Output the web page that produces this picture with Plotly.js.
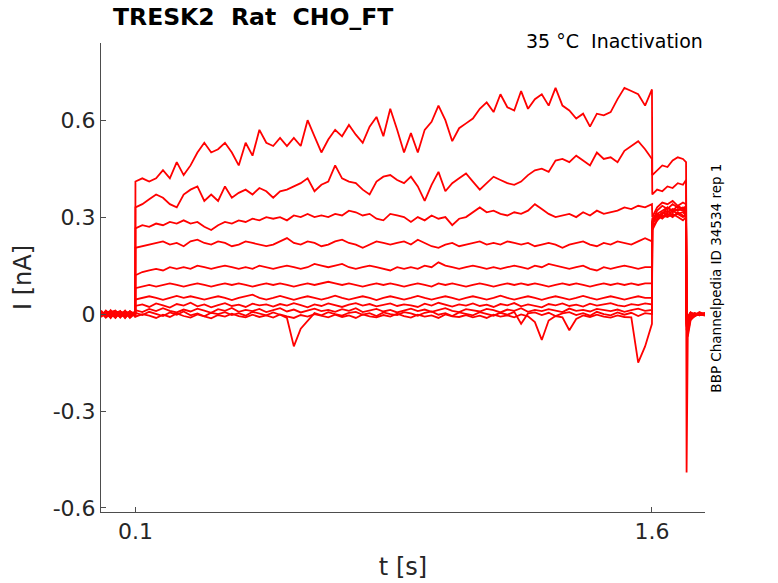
<!DOCTYPE html>
<html>
<head>
<meta charset="utf-8">
<script src="https://cdn.plot.ly/plotly-3.0.1.min.js"></script>
<style>
  html, body { margin: 0; padding: 0; background: #fff; }
  #chart { width: 778px; height: 583px; }
</style>
</head>
<body>
<div id="chart"></div>
<script>
// time bases [s]: holding, conditioning step, test step, return
var tPre = [0, 0.014, 0.028, 0.042, 0.056, 0.07, 0.084, 0.0995];
var tPulse = [
  0.10, 0.12, 0.14, 0.16, 0.18, 0.20, 0.22, 0.24, 0.26, 0.28,
  0.30, 0.32, 0.34, 0.36, 0.38, 0.40, 0.42, 0.44, 0.46, 0.48,
  0.50, 0.52, 0.54, 0.56, 0.58, 0.60, 0.62, 0.64, 0.66, 0.68,
  0.70, 0.72, 0.74, 0.76, 0.78, 0.80, 0.82, 0.84, 0.86, 0.88,
  0.90, 0.92, 0.94, 0.96, 0.98, 1.00, 1.02, 1.04, 1.06, 1.08,
  1.10, 1.12, 1.14, 1.16, 1.18, 1.20, 1.22, 1.24, 1.26, 1.28,
  1.30, 1.32, 1.34, 1.36, 1.38, 1.40, 1.42, 1.44, 1.46, 1.48,
  1.50, 1.52, 1.54, 1.56, 1.58, 1.60];
var tTest = [1.601, 1.615, 1.63, 1.645, 1.66, 1.675, 1.69, 1.699];
var tPost = [1.7005, 1.704, 1.712, 1.724, 1.738, 1.754];

// currents [nA]: pre (8) | pulse (76) | test (8) | post (6)
var i1 = [0.006, -0.01, 0.012, -0.005, 0.009, -0.012, 0.005, 0.003,
  0.41, 0.42, 0.41, 0.42, 0.445, 0.42, 0.47, 0.43, 0.46, 0.50,
  0.53, 0.50, 0.51, 0.53, 0.50, 0.46, 0.53, 0.49, 0.57, 0.53,
  0.52, 0.545, 0.52, 0.545, 0.52, 0.60, 0.55, 0.50, 0.54, 0.57,
  0.55, 0.585, 0.555, 0.53, 0.58, 0.61, 0.55, 0.635, 0.57, 0.50,
  0.56, 0.50, 0.57, 0.595, 0.645, 0.60, 0.535, 0.575, 0.59, 0.605,
  0.635, 0.655, 0.625, 0.68, 0.64, 0.63, 0.69, 0.635, 0.665, 0.68,
  0.645, 0.70, 0.645, 0.63, 0.605, 0.62, 0.58, 0.62, 0.615, 0.625,
  0.665, 0.70, 0.69, 0.68, 0.645, 0.695,
  0.43, 0.445, 0.46, 0.455, 0.475, 0.485, 0.48, 0.47,
  -0.02, -0.01, 0.005, -0.004, 0.006, -0.002];
var i2 = [-0.008, 0.011, -0.003, 0.008, -0.011, 0.006, -0.005, 0.009,
  0.33, 0.34, 0.355, 0.37, 0.36, 0.34, 0.33, 0.37, 0.385, 0.395,
  0.35, 0.37, 0.35, 0.395, 0.36, 0.375, 0.385, 0.37, 0.39, 0.38,
  0.36, 0.38, 0.385, 0.395, 0.405, 0.42, 0.38, 0.40, 0.41, 0.46,
  0.42, 0.41, 0.405, 0.385, 0.37, 0.41, 0.425, 0.43, 0.415, 0.405,
  0.425, 0.395, 0.35, 0.40, 0.44, 0.38, 0.405, 0.42, 0.435, 0.41,
  0.385, 0.405, 0.425, 0.415, 0.405, 0.40, 0.41, 0.43, 0.445, 0.45,
  0.44, 0.475, 0.48, 0.47, 0.49, 0.475, 0.46, 0.50, 0.48, 0.485,
  0.47, 0.505, 0.52, 0.535, 0.51, 0.48,
  0.37, 0.385, 0.38, 0.395, 0.39, 0.405, 0.40, 0.415,
  -0.03, -0.012, 0.004, -0.006, 0.003, 0.001];
var i3 = [0.009, -0.006, 0.003, -0.012, 0.008, 0.002, -0.009, 0.006,
  0.265, 0.275, 0.27, 0.28, 0.275, 0.285, 0.28, 0.29, 0.28, 0.285,
  0.27, 0.26, 0.275, 0.285, 0.28, 0.29, 0.285, 0.295, 0.29, 0.30,
  0.295, 0.30, 0.29, 0.305, 0.30, 0.31, 0.30, 0.305, 0.30, 0.31,
  0.305, 0.32, 0.315, 0.305, 0.31, 0.295, 0.29, 0.31, 0.305, 0.30,
  0.285, 0.30, 0.29, 0.305, 0.295, 0.30, 0.275, 0.295, 0.30, 0.315,
  0.33, 0.315, 0.32, 0.31, 0.305, 0.315, 0.31, 0.32, 0.34, 0.325,
  0.31, 0.30, 0.305, 0.31, 0.30, 0.315, 0.305, 0.32, 0.31, 0.315,
  0.32, 0.33, 0.325, 0.335, 0.33, 0.34,
  0.30, 0.33, 0.345, 0.34, 0.35, 0.335, 0.345, 0.34,
  -0.04, -0.015, 0.002, -0.003, 0.004, -0.001];
var i4 = [-0.005, 0.008, -0.011, 0.006, -0.003, 0.011, -0.006, 0.002,
  0.205, 0.21, 0.215, 0.22, 0.225, 0.215, 0.22, 0.21, 0.225, 0.23,
  0.22, 0.215, 0.225, 0.22, 0.21, 0.215, 0.225, 0.22, 0.215, 0.21,
  0.215, 0.225, 0.235, 0.22, 0.215, 0.225, 0.22, 0.21, 0.215, 0.225,
  0.23, 0.22, 0.215, 0.205, 0.215, 0.225, 0.22, 0.215, 0.22, 0.225,
  0.215, 0.23, 0.22, 0.21, 0.205, 0.215, 0.22, 0.21, 0.215, 0.22,
  0.225, 0.215, 0.22, 0.215, 0.225, 0.22, 0.215, 0.22, 0.21, 0.215,
  0.22, 0.215, 0.205, 0.215, 0.22, 0.225, 0.215, 0.21, 0.22, 0.215,
  0.225, 0.22, 0.215, 0.225, 0.235, 0.225,
  0.285, 0.32, 0.335, 0.325, 0.34, 0.33, 0.325, 0.335,
  -0.02, -0.008, 0.005, 0.0, -0.004, 0.003];
var i5 = [0.003, -0.009, 0.006, 0.011, -0.008, -0.002, 0.008, -0.005,
  0.12, 0.13, 0.135, 0.14, 0.135, 0.145, 0.14, 0.145, 0.14, 0.15,
  0.145, 0.14, 0.145, 0.15, 0.145, 0.14, 0.145, 0.14, 0.15, 0.145,
  0.14, 0.145, 0.15, 0.145, 0.14, 0.145, 0.155, 0.15, 0.145, 0.15,
  0.155, 0.145, 0.14, 0.145, 0.15, 0.145, 0.14, 0.135, 0.145, 0.14,
  0.145, 0.14, 0.15, 0.145, 0.16, 0.15, 0.145, 0.14, 0.145, 0.15,
  0.145, 0.14, 0.145, 0.14, 0.145, 0.15, 0.145, 0.14, 0.15, 0.145,
  0.155, 0.15, 0.145, 0.14, 0.145, 0.15, 0.14, 0.135, 0.145, 0.14,
  0.145, 0.15, 0.145, 0.14, 0.145, 0.145,
  0.275, 0.31, 0.32, 0.33, 0.315, 0.325, 0.32, 0.31,
  -0.015, -0.03, -0.004, 0.003, -0.002, 0.004];
var i6 = [-0.009, 0.005, 0.009, -0.006, 0.003, -0.011, 0.008, 0.0,
  0.08, 0.085, 0.09, 0.085, 0.09, 0.095, 0.09, 0.085, 0.09, 0.095,
  0.09, 0.085, 0.09, 0.095, 0.09, 0.095, 0.09, 0.085, 0.09, 0.095,
  0.09, 0.095, 0.09, 0.085, 0.09, 0.095, 0.09, 0.095, 0.10, 0.095,
  0.09, 0.095, 0.09, 0.085, 0.09, 0.095, 0.09, 0.095, 0.09, 0.085,
  0.09, 0.095, 0.09, 0.085, 0.095, 0.09, 0.095, 0.09, 0.085, 0.09,
  0.095, 0.09, 0.085, 0.09, 0.095, 0.09, 0.095, 0.09, 0.095, 0.09,
  0.085, 0.09, 0.095, 0.09, 0.095, 0.09, 0.085, 0.09, 0.095, 0.09,
  0.095, 0.09, 0.095, 0.09, 0.095, 0.095,
  0.29, 0.30, 0.315, 0.305, 0.32, 0.31, 0.315, 0.305,
  -0.01, -0.025, -0.006, 0.002, -0.003, 0.002];
var i7 = [0.008, -0.003, -0.009, 0.005, 0.009, -0.006, -0.002, 0.006,
  0.045, 0.05, 0.055, 0.05, 0.044, 0.05, 0.056, 0.05, 0.055, 0.05,
  0.045, 0.05, 0.055, 0.05, 0.043, 0.05, 0.055, 0.06, 0.05, 0.045,
  0.05, 0.056, 0.05, 0.044, 0.05, 0.055, 0.05, 0.045, 0.05, 0.057,
  0.05, 0.045, 0.05, 0.055, 0.05, 0.043, 0.05, 0.055, 0.05, 0.045,
  0.05, 0.056, 0.05, 0.045, 0.05, 0.055, 0.05, 0.044, 0.05, 0.055,
  0.05, 0.045, 0.05, 0.057, 0.05, 0.045, 0.05, 0.055, 0.05, 0.044,
  0.05, 0.055, 0.05, 0.045, 0.05, 0.056, 0.05, 0.045, 0.05, 0.055,
  0.05, 0.045, 0.05, 0.055, 0.05, 0.05,
  0.28, 0.305, 0.295, 0.31, 0.30, 0.315, 0.305, 0.30,
  -0.05, -0.02, -0.008, 0.001, -0.004, 0.0];
var i8 = [-0.006, 0.009, 0.002, -0.011, 0.006, 0.003, -0.008, 0.005,
  0.025, 0.03, 0.022, 0.033, 0.027, 0.02, 0.031, 0.026, 0.035, 0.024,
  0.03, 0.021, 0.028, 0.034, 0.025, 0.029, 0.022, 0.032, 0.027, 0.03,
  0.023, 0.031, 0.026, 0.034, 0.028, 0.021, 0.03, 0.025, 0.033, 0.027,
  0.022, 0.029, 0.034, 0.026, 0.031, 0.024, 0.028, 0.033, 0.025, 0.03,
  0.027, 0.022, 0.032, 0.026, 0.035, 0.028, 0.023, 0.03, 0.026, 0.033,
  0.025, 0.029, 0.022, 0.031, 0.027, 0.034, 0.024, 0.03, 0.026, 0.021,
  0.031, 0.027, 0.033, 0.025, 0.029, 0.023, 0.032, 0.026, 0.03, 0.034,
  0.027, 0.024, 0.031, 0.028, 0.033, 0.03,
  0.285, 0.295, 0.31, 0.32, 0.305, 0.31, 0.30, 0.31,
  -0.035, -0.04, -0.01, -0.002, 0.003, -0.003];
var i9 = [0.011, -0.005, 0.006, 0.0, -0.009, 0.008, 0.003, -0.006,
  0.012, 0.006, 0.016, 0.009, 0.018, 0.01, 0.005, 0.014, 0.008, 0.017,
  0.011, 0.004, 0.015, 0.01, 0.019, 0.007, 0.013, 0.009, 0.016, 0.006,
  0.012, 0.018, 0.008, 0.014, 0.005, 0.011, 0.017, 0.009, 0.013, 0.007,
  0.015, 0.01, 0.018, 0.006, 0.012, 0.016, 0.008, 0.013, 0.005, 0.011,
  0.017, 0.009, 0.014, 0.007, 0.012, 0.018, 0.01, 0.006, 0.015, 0.011,
  0.008, 0.016, 0.012, 0.005, 0.014, 0.01, 0.018, 0.007, 0.013, 0.009,
  0.015, 0.011, 0.006, 0.017, 0.01, 0.013, 0.008, 0.016, 0.012, 0.009,
  0.014, 0.007, 0.012, 0.017, 0.01, 0.013,
  0.295, 0.31, 0.30, 0.315, 0.325, 0.32, 0.33, 0.32,
  -0.49, -0.06, -0.015, -0.006, 0.002, -0.004];
var i10 = [-0.003, 0.006, -0.012, 0.008, 0.002, -0.005, 0.009, -0.009,
  0.004, -0.003, 0.007, 0.0, -0.006, 0.005, -0.002, 0.008, -0.004, 0.002,
  -0.007, 0.004, 0.0, 0.006, -0.003, 0.003, -0.005, 0.007, 0.001, -0.004,
  0.005, -0.002, -0.012, -0.10, -0.045, -0.02, 0.003, -0.004, 0.006, 0.0,
  -0.005, 0.004, 0.007, -0.002, 0.003, -0.006, 0.005, 0.0, -0.003, 0.006,
  0.002, -0.005, 0.004, 0.008, -0.002, 0.003, -0.006, 0.005, 0.0, -0.004,
  0.006, 0.001, -0.005, 0.004, -0.002, 0.007, -0.03, 0.002, 0.005, -0.003,
  0.004, -0.006, 0.002, 0.006, -0.003, 0.003, -0.005, 0.007, 0.0, -0.004,
  0.005, -0.002, 0.004, -0.006, 0.003, 0.0,
  0.27, 0.29, 0.305, 0.30, 0.31, 0.30, 0.29, 0.30,
  -0.03, -0.045, -0.012, -0.004, 0.002, -0.002];
var i11 = [0.005, -0.011, 0.0, 0.009, -0.006, 0.006, -0.012, 0.002,
  -0.008, 0.0, -0.005, -0.012, -0.002, -0.009, 0.002, -0.006, -0.011, -0.001,
  -0.007, -0.013, -0.003, -0.008, 0.001, -0.006, -0.01, -0.002, -0.009, -0.004,
  -0.011, -0.001, -0.007, -0.012, -0.003, -0.008, 0.0, -0.006, -0.01, -0.002,
  -0.009, -0.004, -0.012, -0.001, -0.007, -0.01, -0.003, -0.008, 0.001, -0.006,
  -0.011, -0.002, -0.008, -0.004, -0.012, -0.001, -0.007, -0.009, -0.003, -0.01,
  -0.005, -0.012, -0.002, -0.008, -0.004, -0.01, -0.001, -0.007, -0.025, -0.08,
  -0.02, -0.006, -0.01, -0.05, -0.015, -0.004, -0.009, -0.002, -0.008, -0.011,
  -0.004, -0.009, -0.01, -0.15, -0.10, -0.03,
  0.26, 0.29, 0.31, 0.33, 0.32, 0.335, 0.325, 0.315,
  -0.02, -0.07, -0.02, -0.005, 0.0, -0.005];

var yTicks = [-0.6, -0.3, 0, 0.3, 0.6];
var yTickText = ["-0.6", "-0.3", "0", "0.3", "0.6"];
var xTicks = [0.1, 1.6];
var xTickText = ["0.1", "1.6"];

var tAll = tPre.concat(tPulse, tTest, tPost);
var sweeps = [i1, i2, i3, i4, i5, i6, i7, i8, i9, i10, i11];

var data = sweeps.map(function (y) {
  return {
    x: tAll,
    y: y,
    type: "scatter",
    mode: "lines",
    line: { color: "#ff0000", width: 1.8 },
    hoverinfo: "skip"
  };
});

var font = "DejaVu Sans, Liberation Sans, sans-serif";
var axisCommon = {
  showline: true,
  linecolor: "#4d4d4d",
  linewidth: 1,
  ticks: "inside",
  ticklen: 5,
  tickcolor: "#4d4d4d",
  showgrid: false,
  zeroline: false,
  tickfont: { family: font, size: 22, color: "#262626" }
};

var layout = {
  width: 778,
  height: 583,
  margin: { l: 101, r: 73, t: 43, b: 71 },
  paper_bgcolor: "#ffffff",
  plot_bgcolor: "#ffffff",
  showlegend: false,
  title: {
    text: "<b>TRESK2\u00a0\u00a0Rat\u00a0\u00a0CHO_FT</b>",
    font: { family: font, size: 23.5, color: "#000000" },
    xref: "container", x: 113 / 778, xanchor: "left",
    yref: "container", y: 1 - 17 / 583, yanchor: "middle"
  },
  xaxis: Object.assign({}, axisCommon, {
    range: [0, 1.754],
    tickvals: xTicks,
    ticktext: xTickText,
    title: { text: "t [s]", font: { family: font, size: 24, color: "#262626" }, standoff: 14 }
  }),
  yaxis: Object.assign({}, axisCommon, {
    range: [-0.6124, 0.8387],
    tickvals: yTicks,
    ticktext: yTickText,
    title: { text: "I [nA]", font: { family: font, size: 24, color: "#262626" }, standoff: 14 }
  }),
  annotations: [
    {
      text: "35 °C\u00a0\u00a0Inactivation",
      xref: "paper", yref: "paper", x: 1.0, y: 1.004,
      xanchor: "right", yanchor: "middle", showarrow: false,
      font: { family: font, size: 19, color: "#000000" }
    },
    {
      text: "BBP Channelpedia ID 34534 rep 1",
      xref: "paper", yref: "paper", x: 1.019, y: 0.4986,
      xanchor: "center", yanchor: "middle", textangle: -90, showarrow: false,
      font: { family: font, size: 13.5, color: "#000000" }
    }
  ]
};

Plotly.newPlot("chart", data, layout, { displayModeBar: false, staticPlot: true });
</script>
</body>
</html>
